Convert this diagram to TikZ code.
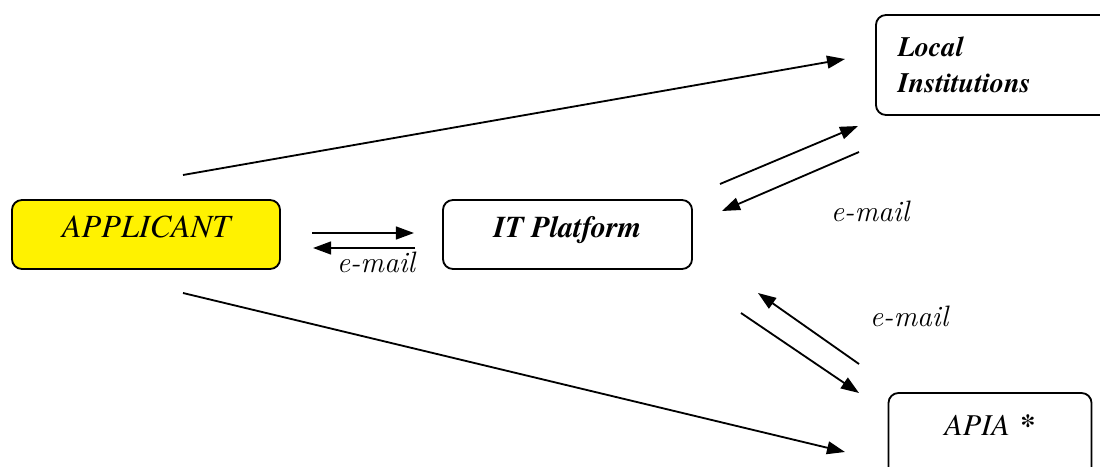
\documentclass[tikz,border=0pt]{standalone}
\usepackage{fontspec}
\newfontfamily\tnr{texgyretermes}[Extension=.otf,UprightFont=*-regular,BoldFont=*-bold,ItalicFont=*-italic,BoldItalicFont=*-bolditalic]
\usetikzlibrary{calc,arrows.meta}

\begin{document}
\begin{tikzpicture}[x=0.025cm,y=-0.025cm,
 box/.style={draw,line width=1.3pt,rounded corners=0.25cm},
 caps/.style={text height=0.7em,text depth=0.25em},
 flow/.style={line width=1.3pt,-{Triangle[length=0.45cm,width=0.32cm]}},
 mail/.style={inner sep=0pt,font=\fontsize{21}{25}\selectfont\itshape}]
 \useasboundingbox (0,0) rectangle (1100,467); \clip (0,0) rectangle (1100,467);
 % boxes
 \node[box,caps,fill=yellow,minimum width=6.7cm,minimum height=1.725cm,font=\tnr\itshape\fontsize{23}{28}\selectfont] (applicant) at (146,234.5) {APPLICANT};
 \node[box,caps,minimum width=6.225cm,minimum height=1.725cm,font=\tnr\bfseries\itshape\fontsize{21.5}{26}\selectfont] (platform) at (567.5,234.5) {IT Platform};
 \node[box,align=left,text width=4.9cm,inner xsep=0.55cm,minimum height=2.5cm,font=\tnr\bfseries\itshape\fontsize{20}{26}\selectfont] (local) at (996,65) {Local\\Institutions};
 \node[box,text height=0.7em,text depth=0.6em,minimum width=5.075cm,minimum height=2.1cm,font=\tnr\itshape\fontsize{21.5}{26}\selectfont] (apia) at (990,435) {APIA\hspace{0.35em}{\upshape\bfseries *}};
 % free ends of the arrows
 \coordinate (al1) at (183,175); \coordinate (al2) at (845,59);
 \coordinate (aa1) at (183,293); \coordinate (aa2) at (845,452);
 \coordinate (ap1) at (312,233); \coordinate (ap2) at (414,233);
 \coordinate (pa1) at (415,248); \coordinate (pa2) at (313,248);
 \coordinate (pl1) at (720,184); \coordinate (pl2) at (858,126);
 \coordinate (lp1) at (859,152); \coordinate (lp2) at (722,211);
 \coordinate (ip1) at (859,364); \coordinate (ip2) at (758,293);
 \coordinate (pi1) at (741,313); \coordinate (pi2) at (859,393);
 \draw[flow] (al1)--(al2); \draw[flow] (aa1)--(aa2);
 \draw[flow] (ap1)--(ap2); \draw[flow] (pa1)--(pa2);
 \draw[flow] (pl1)--(pl2); \draw[flow] (lp1)--(lp2);
 \draw[flow] (ip1)--(ip2); \draw[flow] (pi1)--(pi2);
 % labels
 \node[mail] (m1) at (376,262) {e-mail};
 \node[mail] (m2) at (870,211) {e-mail};
 \node[mail] (m3) at (909,316) {e-mail};
\end{tikzpicture}
\end{document}
